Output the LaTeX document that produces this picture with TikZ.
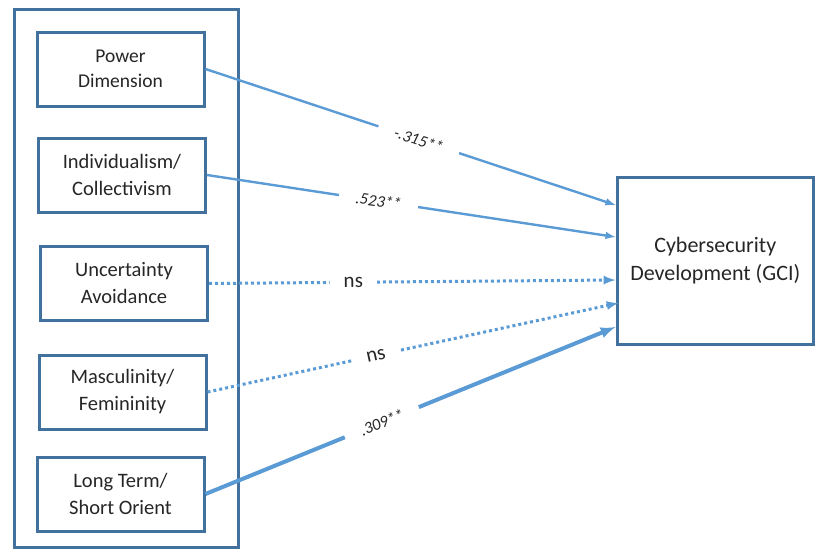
\documentclass[tikz,border=0pt]{standalone}
\usepackage{fontspec}
\setmainfont{Carlito}
\definecolor{boxblue}{HTML}{41719C}
\definecolor{arrowblue}{HTML}{5B9BD5}
\tikzset{
  dimbox/.style={draw=boxblue, line width=3pt, minimum width=167pt, minimum height=74pt,
    align=center, text=black!85, font=\fontsize{20.5}{27}\selectfont},
  link/.style={arrowblue, line width=2.4pt, -latex},
  nslink/.style={link, line width=3pt, dash pattern=on 3pt off 3pt},
  coef/.style={fill=white, sloped, text=black!85, inner xsep=17pt,
    font=\fontsize{16.5}{16.5}\selectfont\itshape},
  nslabel/.style={fill=white, sloped, text=black!85, inner xsep=14pt,
    font=\fontsize{21}{21}\selectfont}
}
\begin{document}
\begin{tikzpicture}[x=1pt,y=-1pt]
  \useasboundingbox (0,0) rectangle (815,554);
  \node[draw=boxblue, line width=3pt, minimum width=224pt, minimum height=538pt] (culture) at (126,278) {};

  \node[dimbox, font=\fontsize{19.5}{25}\selectfont] (power) at (120.5,69) {Power\\Dimension};
  \node[dimbox] (indiv) at (122,175) {Individualism/\\Collectivism};
  \node[dimbox] (uncert) at (124,283.5) {Uncertainty\\Avoidance};
  \node[dimbox] (masc) at (122.5,392) {Masculinity/\\Femininity};
  \node[dimbox] (longterm) at (120.5,494) {Long Term/\\Short Orient};

  \node[draw=boxblue, line width=3pt, minimum width=196.5pt, minimum height=167pt,
    align=center, text=black!85, font=\fontsize{22}{28}\selectfont] (gci) at (715.25,260.5)
    {Cybersecurity\\Development (GCI)};

  \draw[link] (power.east) -- node[coef, pos=0.52] {-.315**} ([yshift=55.5pt]gci.west);
  \draw[link] (indiv.east) -- node[coef, pos=0.42] {.523**} ([yshift=23.5pt]gci.west);
  \draw[nslink] (uncert.east) -- node[nslabel, pos=0.355] {ns} ([yshift=-19.5pt]gci.west);
  \draw[nslink] (masc.east) -- node[nslabel, pos=0.41] {ns} ([xshift=3pt,yshift=-42.5pt]gci.west);
  \draw[link, line width=4pt] (longterm.east) -- node[coef, pos=0.43] {.309**} ([yshift=-66.5pt]gci.west);
\end{tikzpicture}
\end{document}
